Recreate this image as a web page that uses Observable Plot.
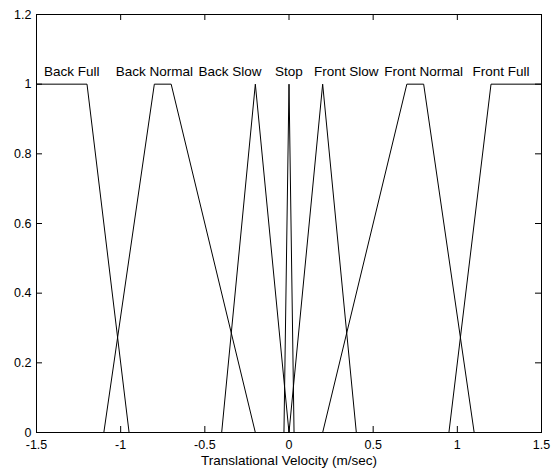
<!DOCTYPE html>
<html><head><meta charset="utf-8">
<script src="https://cdn.jsdelivr.net/npm/d3@7"></script>
<script src="https://cdn.jsdelivr.net/npm/@observablehq/plot@0.6"></script>
<style>body{margin:0;background:#fff}</style>
</head><body><div id="chart"></div>
<script>
// Membership function names and breakpoints
const mfNames = ["Back Full", "Back Normal", "Back Slow", "Stop", "Front Slow", "Front Normal", "Front Full"];
const mfX = [
  [-1.5, -1.2, -0.95],
  [-1.1, -0.8, -0.7, -0.2],
  [-0.4, -0.2, 0],
  [-0.03, 0, 0.03],
  [0, 0.2, 0.4],
  [0.2, 0.7, 0.8, 1.1],
  [0.95, 1.2, 1.5]
];
const mfY = [
  [1, 1, 0],
  [0, 1, 1, 0],
  [0, 1, 0],
  [0, 1, 0],
  [0, 1, 0],
  [0, 1, 1, 0],
  [0, 1, 1]
];
const labelX = [-1.29, -0.80, -0.35, 0, 0.34, 0.80, 1.26];
const labelLevel = 1.037;
const xTicks = [-1.5, -1, -0.5, 0, 0.5, 1, 1.5];
const yTicks = [0, 0.2, 0.4, 0.6, 0.8, 1, 1.2];
const xLabel = "Translational Velocity (m/sec)";

const lineData = mfNames.flatMap((name, i) => mfX[i].map((x, j) => ({name, x, y: mfY[i][j]})));
const labels = mfNames.map((name, i) => ({name, x: labelX[i], y: labelLevel}));

const chart = Plot.plot({
  width: 559,
  height: 470,
  marginLeft: 36,
  marginRight: 18,
  marginTop: 14,
  marginBottom: 38,
  style: {fontFamily: "'Liberation Sans', Arial, Helvetica, sans-serif", fontSize: "13.5px", background: "#fff", color: "#000"},
  x: {domain: [-1.5, 1.5]},
  y: {domain: [0, 1.2]},
  marks: [
    Plot.axisX({ticks: xTicks, tickFormat: d => String(d), tickSize: 0, tickPadding: 8, fontSize: 12.5, label: null}),
    Plot.axisY({ticks: yTicks, tickFormat: d => String(d), tickSize: 0, tickPadding: 5, fontSize: 12.5, label: null}),
    Plot.ruleX(xTicks, {x: d => d, y1: 0, y2: 0, insetTop: -6, stroke: "#000"}),
    Plot.ruleX(xTicks, {x: d => d, y1: 1.2, y2: 1.2, insetBottom: -6, stroke: "#000"}),
    Plot.ruleY(yTicks, {y: d => d, x1: -1.5, x2: -1.5, insetRight: -6, stroke: "#000"}),
    Plot.ruleY(yTicks, {y: d => d, x1: 1.5, x2: 1.5, insetLeft: -6, stroke: "#000"}),
    Plot.line(lineData, {x: "x", y: "y", z: "name", stroke: "#000", strokeWidth: 1}),
    Plot.text(labels, {x: "x", y: "y", text: "name", fill: "#000"}),
    Plot.text([xLabel], {frameAnchor: "bottom", dy: 32, text: d => d, fill: "#000"}),
    Plot.frame({stroke: "#000"})
  ]
});
document.getElementById("chart").appendChild(chart);
</script>
</body></html>
